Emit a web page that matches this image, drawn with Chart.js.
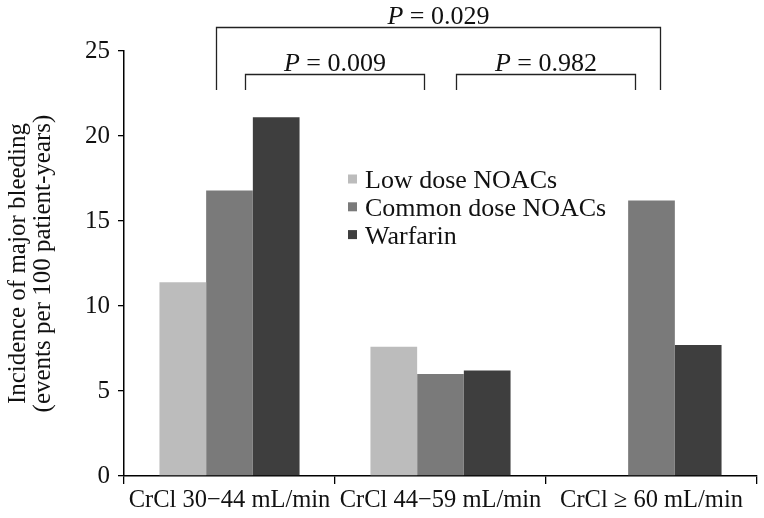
<!DOCTYPE html>
<html lang="en">
<head>
<meta charset="UTF-8">
<title>Incidence of major bleeding by CrCl</title>
<script src="https://cdn.jsdelivr.net/npm/chart.js"></script>
<style>
  html, body { margin: 0; padding: 0; background: #fff; }
  #wrap { width: 764px; height: 518px; }
</style>
</head>
<body>
<div id="wrap"><canvas id="bleedChart" width="764" height="518"></canvas></div>
<script>
// data
const categories = ['CrCl 30\u221244 mL/min', 'CrCl 44\u221259 mL/min', 'CrCl \u2265 60 mL/min'];
const seriesNames = ['Low dose NOACs', 'Common dose NOACs', 'Warfarin'];
const lowDose = [11.4, 7.6, null];
const commonDose = [16.8, 6.0, 16.2];
const warfarin = [21.1, 6.2, 7.7];
const yTicks = [0, 5, 10, 15, 20, 25];
const comparisons = [
    { a: 0, b: 2, p: '0.029' },
    { a: 0, b: 1, p: '0.009' },
    { a: 1, b: 2, p: '0.982' }
];

const colors = ['#bcbcbc', '#7a7a7a', '#3e3e3e'];
const serif = '"Liberation Serif", Tinos, "Times New Roman", Times, serif';
const ink = '#111';

// brackets with P values + the legend inside the plot
const annotate = {
    id: 'annotate',
    afterDraw(chart) {
        const ctx = chart.ctx;
        const xs = chart.scales.x;
        const top = chart.chartArea.top;
        const unit = xs.getPixelForValue(1) - xs.getPixelForValue(0);
        ctx.save();
        ctx.strokeStyle = '#222';
        ctx.lineWidth = 1.3;
        comparisons.forEach(c => {
            const outer = (c.b - c.a) > 1;
            const x1 = Math.round(xs.getPixelForValue(c.a) + (outer ? -0.065 : 0.075) * unit) + 0.5;
            const x2 = Math.round(xs.getPixelForValue(c.b) + (outer ? 0.04 : -0.08) * unit) + 0.5;
            const yLine = Math.round(top + (outer ? -24 : 23)) + 0.5;
            const yEnd = top + 39;
            ctx.beginPath();
            ctx.moveTo(x1, yEnd);
            ctx.lineTo(x1, yLine);
            ctx.lineTo(x2, yLine);
            ctx.lineTo(x2, yEnd);
            ctx.stroke();

            const rest = ' = ' + c.p;
            ctx.font = 'italic 26px ' + serif;
            const wP = ctx.measureText('P').width;
            ctx.font = '26px ' + serif;
            const wR = ctx.measureText(rest).width;
            const tx = (x1 + x2) / 2 - (wP + wR) / 2;
            const ty = yLine - 3.5;
            ctx.fillStyle = ink;
            ctx.textBaseline = 'alphabetic';
            ctx.textAlign = 'left';
            ctx.font = 'italic 26px ' + serif;
            ctx.fillText('P', tx, ty);
            ctx.font = '26px ' + serif;
            ctx.fillText(rest, tx + wP, ty);
        });

        // legend
        const lx = chart.chartArea.left + 224;
        const ly = top + 128;
        chart.data.datasets.forEach((ds, i) => {
            const cy = ly + i * 27.8;
            ctx.fillStyle = ds.backgroundColor;
            ctx.fillRect(lx, cy - 4.5, 9, 9);
            ctx.fillStyle = ink;
            ctx.font = '26px ' + serif;
            ctx.textBaseline = 'alphabetic';
            ctx.fillText(ds.label, lx + 17, cy + 9);
        });
        ctx.restore();
    }
};

function draw() {
    const ctx = document.getElementById('bleedChart').getContext('2d');
    new Chart(ctx, {
        type: 'bar',
        data: {
            labels: categories,
            datasets: [
                { label: seriesNames[0], data: lowDose, backgroundColor: colors[0] },
                { label: seriesNames[1], data: commonDose, backgroundColor: colors[1] },
                { label: seriesNames[2], data: warfarin, backgroundColor: colors[2] }
            ]
        },
        options: {
            responsive: false,
            animation: false,
            devicePixelRatio: 1,
            layout: { padding: { top: 51, right: 7, bottom: 0, left: 0 } },
            datasets: { bar: { categoryPercentage: 0.664, barPercentage: 1 } },
            plugins: {
                legend: { display: false },
                tooltip: { enabled: false }
            },
            scales: {
                x: {
                    grid: { display: true, drawOnChartArea: false, offset: true, tickLength: 8, color: '#000', lineWidth: 1.3 },
                    border: { display: true, color: '#000', width: 1.5 },
                    ticks: { font: { family: serif, size: 24.5 }, color: ink, padding: 2, maxRotation: 0, autoSkip: false },
                    afterFit(scale) { scale.height = 42; }
                },
                y: {
                    min: 0,
                    max: 25,
                    afterBuildTicks(scale) { scale.ticks = yTicks.map(v => ({ value: v })); },
                    grid: { display: true, drawOnChartArea: false, tickLength: 6, color: '#000', lineWidth: 1.3 },
                    border: { display: true, color: '#000', width: 1.5 },
                    ticks: { font: { family: serif, size: 25 }, color: ink, padding: 8 },
                    title: {
                        display: true,
                        text: ['Incidence of major bleeding', '(events per 100 patient-years)'],
                        font: { family: serif, size: 25, lineHeight: 1.0 },
                        color: ink,
                        padding: { top: 6, bottom: 4 }
                    },
                    afterFit(scale) { scale.width = 124; }
                }
            }
        },
        plugins: [annotate]
    });
}

if (document.fonts && document.fonts.load) {
    document.fonts.load('25px "Liberation Serif"').then(draw, draw);
} else {
    draw();
}
</script>
</body>
</html>
